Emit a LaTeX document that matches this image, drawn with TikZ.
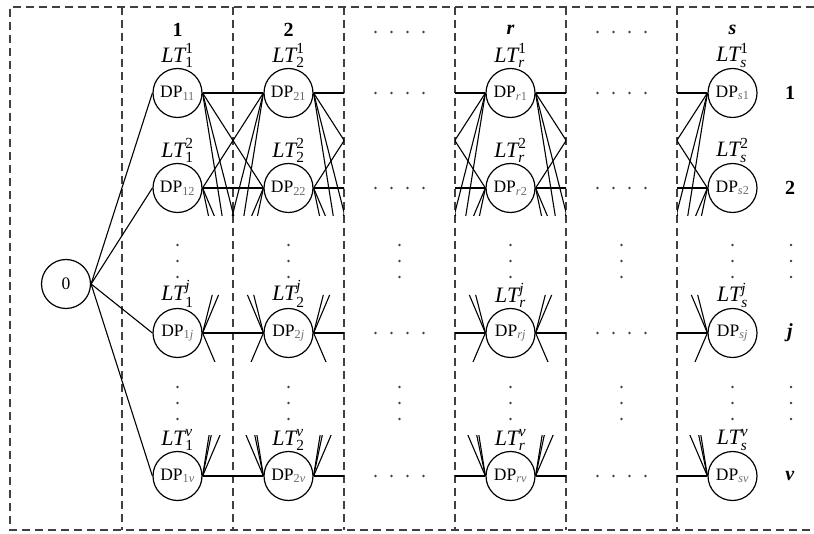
\documentclass[tikz,border=0pt]{standalone}
\usepackage{amsmath}
\usepackage{fontspec}
\setmainfont{Liberation Serif}
\usepackage{tikz}

\definecolor{subgray}{gray}{0.42}
\definecolor{sepgray}{gray}{0.25}

\tikzset{
  dpnode/.style={circle, draw, line width=1.2pt, minimum size=49pt, inner sep=0pt,
    font=\fontsize{17.5}{17.5}\selectfont},
  ghost/.style={circle, minimum size=49pt, inner sep=0pt},
  link/.style={black, line width=1.1pt},
  sepline/.style={sepgray, line width=1.2pt, dash pattern=on 8pt off 5pt},
  ltlabel/.style={font=\fontsize{22}{22}\selectfont, inner sep=0.5pt},
  headtext/.style={font=\fontsize{20}{20}\selectfont\bfseries},
  dotc/.style={fill=black!75}
}

\begin{document}
\begin{tikzpicture}[x=1pt, y=-1pt]
\useasboundingbox (0,0) rectangle (814,534);

% frame and stage separators
\draw[sepline] (814,7) -- (10,7) -- (10,530) -- (814,530);
\foreach \xs in {122, 233, 344, 455, 566, 677}
  \draw[sepline] (\xs,7) -- (\xs,530);

% stage and row headers
\node (col1) at (177.5,30)[headtext]{1};
\node (col2) at (288.5,30)[headtext]{2};
\node (colr) at (510.5,30)[headtext]{\textit{r}};
\node (cols) at (732.5,30)[headtext]{\textit{s}};
\node (row1) at (790,93)[headtext]{1};
\node (row2) at (790,188)[headtext]{2};
\node (rowj) at (790,333)[headtext]{\textit{j}};
\node (rowv) at (790,476)[headtext]{\textit{v}};

% start node
\node (n0) at (66,284)[dpnode]{0};

% decision points
\foreach \cname/\x/\csym in {1/177.5/1, 2/288.5/2, r/510.5/\textit{r}, s/732.5/\textit{s}}
  \foreach \rname/\y/\rsym in {1/93/1, 2/188/2, j/333/\textit{j}, v/476/\textit{v}}
    \node (dp\cname-\rname) at (\x,\y)[dpnode,
      label={[ltlabel]above:$\textit{LT}^{\text{\rsym}}_{\text{\csym}}$}]
      {DP$_{\text{\color{subgray}\csym\rsym}}$};

% stages left out (a, b)
\foreach \cname/\x in {a/399.5, b/621.5}
  \foreach \rname/\y in {1/93, 2/188, j/333, v/476}
    \node (dp\cname-\rname) at (\x,\y)[ghost]{};

% from the start node
\foreach \rname in {1,2,j,v}
  \draw[link] (n0.east) -- (dp1-\rname.west);

% links between stages, cut off away from the rows shown
\foreach \src/\dst/\xa/\xb in {1/2/0/814, 2/a/0/344, a/r/455/814, r/b/0/566, b/s/677/814}
  \foreach \ra/\alo/\ahi in {1/0/216, 2/0/216, j/295/362, v/435/534}
    \foreach \rb/\blo/\bhi in {1/0/216, 2/0/216, j/295/362, v/435/534}
    {
      \begin{scope}
        \clip (\xa,\alo) rectangle (\xb,\ahi) (\xa,\blo) rectangle (\xb,\bhi);
        \draw[link] (dp\src-\ra.east) -- (dp\dst-\rb.west);
      \end{scope}
    }

% dots
\foreach \x in {399.5, 621.5}
  \foreach \y in {32, 93, 188, 333, 476}
    \foreach \dx in {-24,-8,8,24}
      \fill[dotc] (\x+\dx,\y) circle (1.3pt);
\foreach \x in {177.5, 288.5, 399.5, 510.5, 621.5, 732.5, 791}
  \foreach \y in {245, 261, 277, 387, 403, 419}
    \fill[dotc] (\x,\y) circle (1.3pt);
\end{tikzpicture}
\end{document}
